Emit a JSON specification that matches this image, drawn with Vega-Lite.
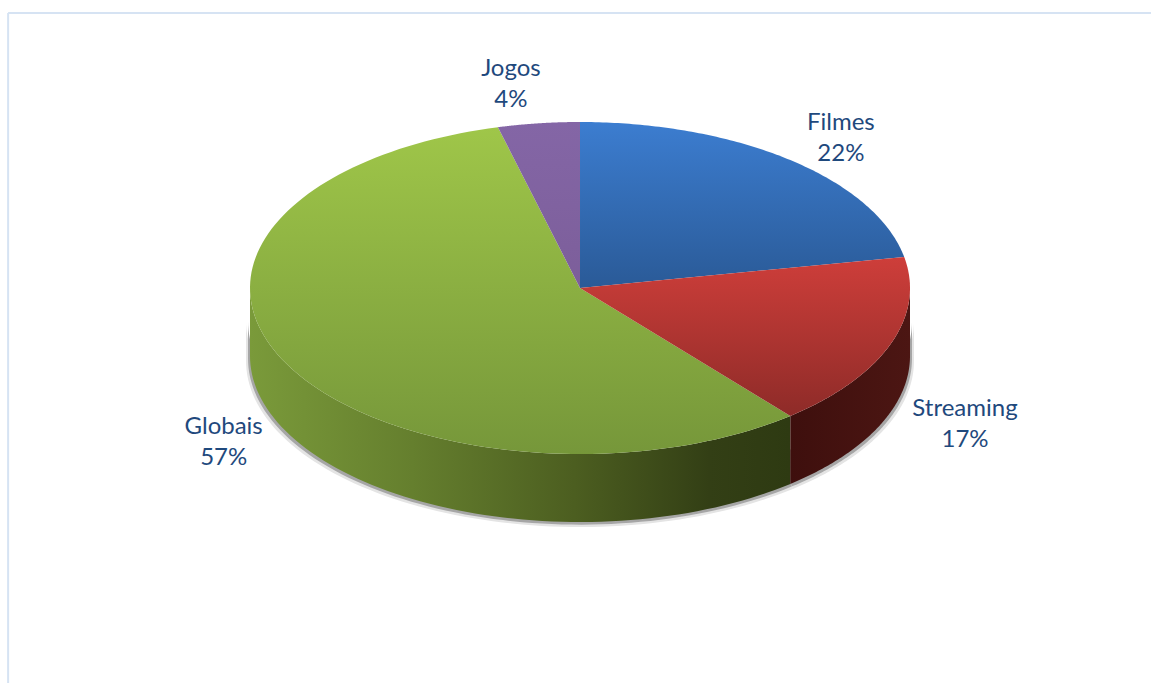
{
  "$schema": "https://vega.github.io/schema/vega-lite/v6.json",
  "width": 1151,
  "height": 683,
  "padding": 0,
  "autosize": "none",
  "background": "white",
  "view": {"stroke": null},
  "data": {"values": [
    {"categoria": "Filmes", "share": 22},
    {"categoria": "Streaming", "share": 17},
    {"categoria": "Globais", "share": 57},
    {"categoria": "Jogos", "share": 4}
  ]},
  "transform": [
    {"window": [{"op": "sum", "field": "share", "as": "acumulado"}]},
    {"calculate": "sequence(0, 122)", "as": "passo"},
    {"flatten": ["passo"]},
    {"calculate": "(datum.acumulado - datum.share + datum.share * min(datum.passo, 120) / 120) * 3.6", "as": "angulo"},
    {"calculate": "datum.passo == 121 ? 0 : sin(datum.angulo * PI / 180)", "as": "u"},
    {"calculate": "datum.passo == 121 ? 0 : cos(datum.angulo * PI / 180)", "as": "v"},
    {"calculate": "clamp(datum.angulo, 90, 270) * PI / 180", "as": "parede"},
    {"calculate": "sin(datum.parede)", "as": "uParede"},
    {"calculate": "cos(datum.parede)", "as": "vParede"},
    {"calculate": "cos(datum.parede) - 0.4096", "as": "vBase"},
    {"calculate": "(datum.acumulado - datum.share / 2) * 3.6 * PI / 180", "as": "meio"},
    {"calculate": "1.24 * sin(datum.meio) + (datum.categoria == 'Jogos' ? -0.054 : datum.categoria == 'Globais' ? 0.025 : 0)", "as": "uRotulo"},
    {"calculate": "1.17 * cos(datum.meio) + 0.09 + (cos(datum.meio) < 0 ? -0.4096 : 0) + (datum.categoria == 'Jogos' ? 0.066 : datum.categoria == 'Streaming' ? -0.012 : datum.categoria == 'Globais' ? 0.012 : 0)", "as": "vRotulo"},
    {"calculate": "datum.categoria + '\\n' + datum.share + '%'", "as": "rotulo"}
  ],
  "encoding": {
    "x": {"type": "quantitative", "axis": null, "scale": {"domain": [-1.7576, 1.7303], "nice": false, "zero": false}},
    "y": {"type": "quantitative", "axis": null, "scale": {"domain": [-2.3795, 1.7349], "nice": false, "zero": false}}
  },
  "layer": [
    {
      "data": {"values": [{}]},
      "transform": [],
      "mark": {"type": "rule", "stroke": "#d6e3f3", "strokeWidth": 2},
      "encoding": {
        "x": {"datum": -1.733},
        "y": {"datum": 1.657},
        "y2": {"datum": -2.3795}
      }
    },
    {
      "data": {"values": [{}]},
      "transform": [],
      "mark": {"type": "rule", "stroke": "#d6e3f3", "strokeWidth": 2},
      "encoding": {
        "y": {"datum": 1.657},
        "x": {"datum": -1.733},
        "x2": {"datum": 1.7303}
      }
    },
    {
      "transform": [
        {"filter": "datum.passo <= 120 && (datum.categoria == 'Globais' || datum.categoria == 'Streaming')"},
        {"calculate": "datum.uParede * 1.012", "as": "uSombra"},
        {"calculate": "datum.vParede - 0.2", "as": "vSombraTopo"},
        {"calculate": "datum.vBase - 0.03", "as": "vSombraBase"}
      ],
      "mark": {"type": "area", "fill": "#e4e4e4", "orient": "vertical"},
      "encoding": {
        "x": {"field": "uSombra"},
        "y": {"field": "vSombraTopo"},
        "y2": {"field": "vSombraBase"},
        "detail": {"field": "categoria"}
      }
    },
    {
      "transform": [
        {"filter": "datum.passo <= 120 && (datum.categoria == 'Globais' || datum.categoria == 'Streaming')"},
        {"calculate": "datum.uParede * 1.006", "as": "uSombra"},
        {"calculate": "datum.vParede - 0.2", "as": "vSombraTopo"},
        {"calculate": "datum.vBase - 0.016", "as": "vSombraBase"}
      ],
      "mark": {"type": "area", "fill": "#a6a6a6", "orient": "vertical"},
      "encoding": {
        "x": {"field": "uSombra"},
        "y": {"field": "vSombraTopo"},
        "y2": {"field": "vSombraBase"},
        "detail": {"field": "categoria"}
      }
    },
    {
      "transform": [{"filter": "datum.passo <= 120 && datum.categoria == 'Globais'"}],
      "mark": {
        "type": "area",
        "orient": "vertical",
        "fill": {
          "gradient": "linear", "x1": 0, "y1": 0, "x2": 1, "y2": 0,
          "stops": [
            {"offset": 0, "color": "#7a9a3a"},
            {"offset": 0.3, "color": "#657f2e"},
            {"offset": 0.6, "color": "#4c5e20"},
            {"offset": 0.85, "color": "#333f15"},
            {"offset": 1, "color": "#2e3a12"}
          ]
        }
      },
      "encoding": {
        "x": {"field": "uParede"},
        "y": {"field": "vParede"},
        "y2": {"field": "vBase"}
      }
    },
    {
      "transform": [{"filter": "datum.passo <= 120 && datum.categoria == 'Streaming'"}],
      "mark": {
        "type": "area",
        "orient": "vertical",
        "fill": {
          "gradient": "linear", "x1": 0, "y1": 0, "x2": 1, "y2": 0,
          "stops": [
            {"offset": 0, "color": "#3e0f0d"},
            {"offset": 1, "color": "#4c1613"}
          ]
        }
      },
      "encoding": {
        "x": {"field": "uParede"},
        "y": {"field": "vParede"},
        "y2": {"field": "vBase"}
      }
    },
    {
      "transform": [{"filter": "datum.categoria == 'Globais'"}],
      "mark": {
        "type": "line", "strokeWidth": 0, "interpolate": "linear",
        "fill": {"gradient": "linear", "x1": 0, "y1": 0, "x2": 0, "y2": 1,
          "stops": [{"offset": 0, "color": "#9fc649"}, {"offset": 1, "color": "#76973a"}]}
      },
      "encoding": {
        "x": {"field": "u"},
        "y": {"field": "v"},
        "order": {"field": "passo", "type": "quantitative"}
      }
    },
    {
      "transform": [{"filter": "datum.categoria == 'Filmes'"}],
      "mark": {
        "type": "line", "strokeWidth": 0,
        "fill": {"gradient": "linear", "x1": 0, "y1": 0, "x2": 0, "y2": 1,
          "stops": [{"offset": 0, "color": "#3c7dd0"}, {"offset": 1, "color": "#2a5a97"}]}
      },
      "encoding": {
        "x": {"field": "u"},
        "y": {"field": "v"},
        "order": {"field": "passo", "type": "quantitative"}
      }
    },
    {
      "transform": [{"filter": "datum.categoria == 'Streaming'"}],
      "mark": {
        "type": "line", "strokeWidth": 0,
        "fill": {"gradient": "linear", "x1": 0, "y1": 0, "x2": 0, "y2": 1,
          "stops": [{"offset": 0, "color": "#ce3e3a"}, {"offset": 1, "color": "#8e2b28"}]}
      },
      "encoding": {
        "x": {"field": "u"},
        "y": {"field": "v"},
        "order": {"field": "passo", "type": "quantitative"}
      }
    },
    {
      "transform": [{"filter": "datum.categoria == 'Jogos'"}],
      "mark": {
        "type": "line", "strokeWidth": 0,
        "fill": {"gradient": "linear", "x1": 0, "y1": 0, "x2": 0, "y2": 1,
          "stops": [{"offset": 0, "color": "#8466a6"}, {"offset": 1, "color": "#7c5e9a"}]}
      },
      "encoding": {
        "x": {"field": "u"},
        "y": {"field": "v"},
        "order": {"field": "passo", "type": "quantitative"}
      }
    },
    {
      "transform": [{"filter": "datum.passo == 0"}],
      "mark": {
        "type": "text", "font": "Lato", "fontSize": 24, "lineHeight": 31,
        "lineBreak": "\n", "align": "center", "baseline": "middle", "color": "#1f497d"
      },
      "encoding": {
        "x": {"field": "uRotulo"},
        "y": {"field": "vRotulo"},
        "text": {"field": "rotulo"}
      }
    }
  ]
}
